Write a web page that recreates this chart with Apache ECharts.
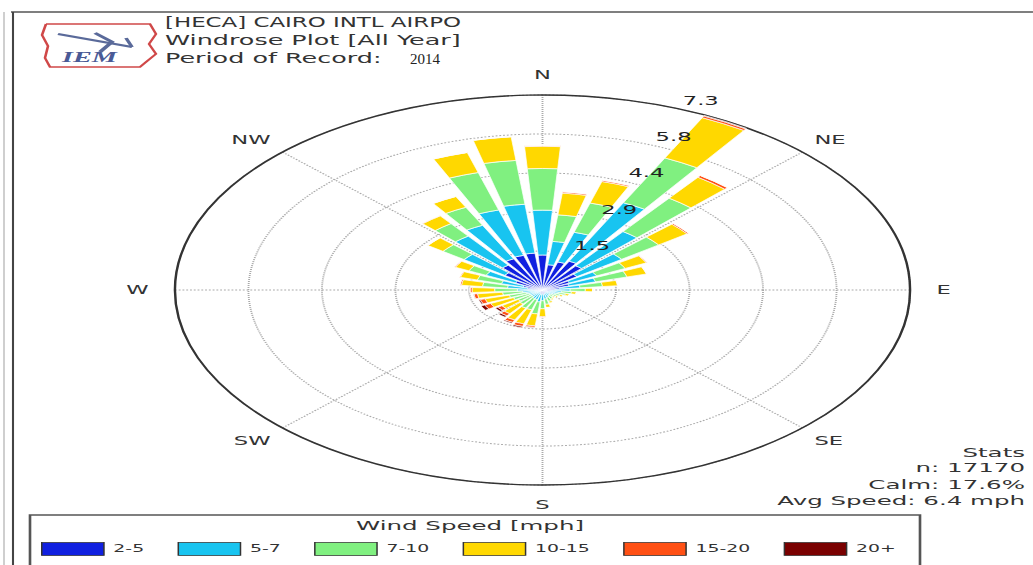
<!DOCTYPE html>
<html><head><meta charset="utf-8">
<script src="https://cdn.jsdelivr.net/npm/echarts@6/dist/echarts.min.js"></script>
<style>
html,body{margin:0;padding:0;background:#fff;overflow:hidden;width:1033px;height:565px;}
#c{position:absolute;left:0;top:0;width:548px;height:565px;transform:scaleX(1.885);transform-origin:0 0;}
</style></head><body><div id="c"></div>
<script>
// ---------- data ----------
const directions = ['0','10','20','30','40','50','60','70','80','90','100','110','120','130','140','150','160','170',
  '180','190','200','210','220','230','240','250','260','270','280','290','300','310','320','330','340','350'];
const compassLabels = ['N','NE','E','SE','S','SW','W','NW'];
const speedBins = ['2-5','5-7','7-10','10-15','15-20','20+'];
const radiusTickLabels = ['1.5','2.9','4.4','5.8','7.3'];
const s2_5   = [1.31,0.95,1.09,1.20,1.12,0.85,0.60,0.55,0.35,0.25,0.18,0.15,0.13,0.12,0.10,0.12,0.14,0.16,
                0.15,0.15,0.12,0.10,0.10,0.10,0.10,0.12,0.15,0.20,0.30,0.40,0.60,0.93,1.15,1.30,1.35,1.39];
const s5_7   = [1.68,0.88,1.16,2.44,1.59,1.10,0.60,0.55,0.40,0.30,0.20,0.18,0.15,0.13,0.12,0.13,0.15,0.18,
                0.25,0.30,0.25,0.25,0.20,0.20,0.20,0.22,0.25,0.30,0.40,0.45,0.65,1.00,1.35,1.40,1.77,1.84];
const s7_10  = [1.56,1.00,1.14,1.87,1.55,0.91,0.63,0.65,0.45,0.30,0.20,0.15,0.12,0.10,0.10,0.12,0.15,0.20,
                0.30,0.45,0.40,0.40,0.35,0.30,0.35,0.35,0.40,0.45,0.50,0.50,0.38,0.52,0.58,0.75,1.46,1.65];
const s10_15 = [0.83,0.82,0.84,1.68,0.97,0.70,0.47,0.40,0.30,0.15,0.10,0.08,0.06,0.05,0.05,0.06,0.08,0.12,
                0.30,0.45,0.55,0.50,0.45,0.40,0.50,0.50,0.50,0.45,0.42,0.35,0.30,0.37,0.36,0.45,0.78,0.89];
const s15_20 = [0.03,0.05,0.05,0.07,0.08,0.04,0.02,0.01,0.01,0.00,0.00,0.00,0.00,0.00,0.00,0.00,0.00,0.01,
                0.04,0.06,0.10,0.10,0.10,0.10,0.13,0.10,0.07,0.04,0.03,0.02,0.02,0.01,0.02,0.01,0.01,0.01];
const s20p   = [0.00,0.00,0.00,0.02,0.00,0.00,0.00,0.00,0.00,0.00,0.00,0.00,0.00,0.00,0.00,0.00,0.00,0.00,
                0.00,0.02,0.05,0.04,0.06,0.06,0.08,0.03,0.01,0.00,0.00,0.00,0.00,0.00,0.00,0.00,0.00,0.00];
const titleLines = ['[HECA] CAIRO INTL AIRPO','Windrose Plot [All Year]','Period of Record:'];
const titleYear = '2014';
const statsLines = ['Stats','n: 17170','Calm: 17.6%','Avg Speed: 6.4 mph'];
const legendTitle = 'Wind Speed [mph]';

// ---------- layout ----------
const K = 1.885;              // horizontal stretch of the picture
const u = x => x / K;         // screen x -> chart x
const C = [u(542.5), 290];
const R = 195;
const colors = ['#1020e0','#18c4f0','#80f080','#ffd800','#ff5014','#7a0000'];
const font = 'DejaVu Sans';

const seriesData = [s2_5, s5_7, s7_10, s10_15, s15_20, s20p];
const series = speedBins.map((name, i) => ({
  type: 'bar', name, coordinateSystem: 'polar', polarIndex: 1, stack: 'wind',
  data: seriesData[i], barCategoryGap: '24%',
  itemStyle: { color: colors[i], borderColor: '#ffffff', borderWidth: 0.5 },
  emphasis: { disabled: true }, silent: true
}));

const graphics = [
  { type: 'line', shape: { x1: u(11), y1: 12, x2: 548, y2: 12 }, style: { stroke: '#555', lineWidth: 1.5 } },
  { type: 'line', shape: { x1: u(13), y1: 12, x2: u(13), y2: 565 }, style: { stroke: '#444', lineWidth: 1.1 } },
  { type: 'line', shape: { x1: u(4), y1: 12, x2: u(4), y2: 565 }, style: { stroke: '#aaa', lineWidth: 0.6 } },
  { type: 'rect', shape: { x: u(30), y: 515, width: u(890), height: 60 }, style: { fill: 'none', stroke: '#555', lineWidth: 1.4 } },
  // logo
  { type: 'polyline', shape: { points: [[u(46),24],[u(150),24],[u(156),34],[u(149),44],[u(156),54],[u(146),62],[u(140),67],[u(50),67],[u(45),58],[u(48),46],[u(42),35],[u(46),24]] },
    style: { stroke: '#d04848', lineWidth: 1.4, fill: 'none' } },
  { type: 'line', shape: { x1: u(58), y1: 34, x2: u(132), y2: 47 }, style: { stroke: '#5a6a9a', lineWidth: 2 } },
  { type: 'polyline', shape: { points: [[u(95),33],[u(112),42],[u(100),52]] }, style: { stroke: '#5a6a9a', lineWidth: 2.4, fill: 'none' } },
  { type: 'line', shape: { x1: u(126), y1: 38, x2: u(132), y2: 47 }, style: { stroke: '#5a6a9a', lineWidth: 2 } },
  { type: 'text', x: u(62), y: 57, style: { text: 'IEM', font: 'italic bold 15px "Liberation Serif"', fill: '#4a5a96', align: 'left', verticalAlign: 'middle', textAlign: 'left', textVerticalAlign: 'middle' } },
  { type: 'text', x: u(470), y: 526, style: { text: legendTitle, font: '13px "DejaVu Sans"', fill: '#333', align: 'center', verticalAlign: 'middle', textAlign: 'center', textVerticalAlign: 'middle' } }
];
const titleY = [22, 40, 58];
const titleScale = [0.9, 1, 1];
titleLines.forEach((t, i) => graphics.push({ type: 'text', x: u(165), y: titleY[i], scaleX: titleScale[i],
  style: { text: t, font: '13.5px "DejaVu Sans"', fill: '#333', align: 'left', verticalAlign: 'middle', textAlign: 'left', textVerticalAlign: 'middle' } }));
graphics.push({ type: 'text', x: u(410), y: 59, scaleX: 0.57,
  style: { text: titleYear, font: '14px "Liberation Serif"', fill: '#222', align: 'left', verticalAlign: 'middle', textAlign: 'left', textVerticalAlign: 'middle' } });
const statsY = [453, 468, 485, 501];
statsLines.forEach((t, i) => graphics.push({ type: 'text', x: u(1025), y: statsY[i],
  style: { text: t, font: '13px "DejaVu Sans"', fill: '#333', align: 'right', verticalAlign: 'middle', textAlign: 'right', textVerticalAlign: 'middle' } }));

const hiddenAngle = { axisLine: { show: false }, axisTick: { show: false }, axisLabel: { show: false }, splitLine: { show: false } };

const chart = echarts.init(document.getElementById('c'), null, { renderer: 'svg', width: 548, height: 565 });
chart.setOption({
  animation: false,
  backgroundColor: '#ffffff',
  polar: [
    { center: C, radius: R },
    { center: C, radius: R },
    { center: C, radius: [12, 207] },
    { center: C, radius: R }
  ],
  angleAxis: [
    // grid + cardinal labels
    { polarIndex: 0, type: 'value', min: 0, max: 360, interval: 45, startAngle: 90, clockwise: true,
      axisLine: { show: true, lineStyle: { color: '#333', width: 1.3 } }, axisTick: { show: false },
      axisLabel: { formatter: v => { const i = Math.round(v / 45) % 8; return i % 2 === 0 ? compassLabels[i] : ''; },
        margin: 14, color: '#333', fontSize: 12, fontFamily: font },
      splitLine: { show: true, lineStyle: { color: '#aaa', type: 'dotted', width: 1 } } },
    // data
    Object.assign({ polarIndex: 1, type: 'category', data: directions, startAngle: 95, clockwise: true }, hiddenAngle),
    // radius label carrier
    Object.assign({ polarIndex: 2, type: 'value', min: 0, max: 360, startAngle: 68.3, clockwise: true, show: false }, hiddenAngle),
    // intercardinal labels
    { polarIndex: 3, type: 'value', min: 0, max: 360, interval: 45, startAngle: 90, clockwise: true,
      axisLine: { show: false }, axisTick: { show: false }, splitLine: { show: false },
      axisLabel: { formatter: v => { const i = Math.round(v / 45) % 8; return i % 2 === 1 ? compassLabels[i] : ''; },
        margin: 9, color: '#333', fontSize: 12, fontFamily: font } }
  ],
  radiusAxis: [
    { polarIndex: 0, min: 0, max: 7.3, interval: 1.46, axisLine: { show: false }, axisTick: { show: false },
      axisLabel: { show: false }, splitLine: { show: true, lineStyle: { color: '#aaa', type: 'dotted', width: 1 } } },
    { polarIndex: 1, min: 0, max: 7.3, show: false, axisLine: { show: false }, axisTick: { show: false }, axisLabel: { show: false }, splitLine: { show: false } },
    { polarIndex: 2, z: 10, min: 0, max: 7.3, interval: 1.46, axisLine: { show: false }, axisTick: { show: false }, splitLine: { show: false },
      axisLabel: { show: true, showMinLabel: false, margin: -8, align: 'center', verticalAlign: 'middle', color: '#222', fontSize: 12, fontFamily: font,
        formatter: v => { const i = Math.round(v / 1.46); return i > 0 ? radiusTickLabels[i - 1] : ''; } } },
    { polarIndex: 3, min: 0, max: 7.3, show: false, axisLine: { show: false }, axisTick: { show: false }, axisLabel: { show: false }, splitLine: { show: false } }
  ],
  legend: {
    data: speedBins, left: u(41), top: 542, itemWidth: 33, itemHeight: 13, itemGap: 17.7, icon: 'rect',
    selectedMode: false, padding: 0,
    itemStyle: { borderColor: '#333', borderWidth: 0.8 },
    textStyle: { fontSize: 10, color: '#333', fontFamily: font }
  },
  series,
  graphic: graphics
});
</script></body></html>
